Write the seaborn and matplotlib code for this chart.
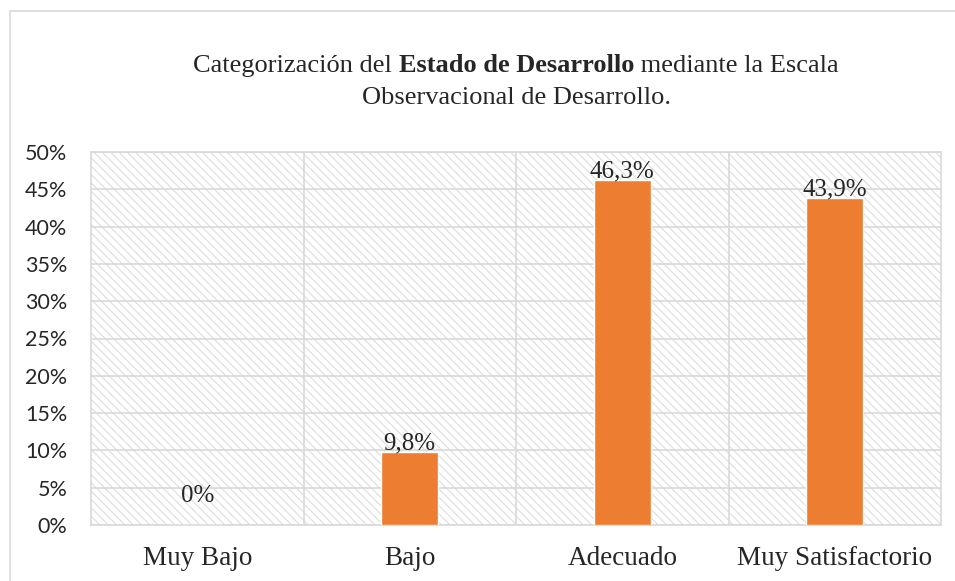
import matplotlib
matplotlib.use("Agg")
import matplotlib.pyplot as plt
import seaborn as sns
import pandas as pd
from matplotlib.patches import Rectangle

# data
categorias = ["Muy Bajo", "Bajo", "Adecuado", "Muy Satisfactorio"]
porcentajes = [0.0, 9.8, 46.3, 43.9]
etiquetas = ["0%", "9,8%", "46,3%", "43,9%"]
yticks = [0, 5, 10, 15, 20, 25, 30, 35, 40, 45, 50]

df = pd.DataFrame({"Estado": categorias, "Porcentaje": porcentajes})

sns.set_style("white")
plt.rcParams["hatch.linewidth"] = 0.7
plt.rcParams["hatch.color"] = "#d9d9d9"

fig = plt.figure(figsize=(9.55, 5.81), dpi=100)
ax = fig.add_axes([91 / 955, 1 - 525 / 581, 850 / 955, 373 / 581])

# outer chart frame
fig.patches.append(Rectangle((10 / 955, -0.1), 1.2, 1 - 11 / 581 + 0.1,
                             transform=fig.transFigure, fill=False,
                             edgecolor="#d9d9d9", linewidth=1.2))

# hatched plot background
ax.add_patch(Rectangle((0, 0), 1, 1, transform=ax.transAxes, facecolor="white",
                       edgecolor="#d9d9d9", hatch="\\\\\\\\", linewidth=0, zorder=0))

sns.barplot(data=df, x="Estado", y="Porcentaje", color="#ED7D31", width=0.27,
            saturation=1, ax=ax, zorder=3)

ax.set_ylim(0, 50)
ax.set_xlim(-0.5, len(categorias) - 0.5)
ax.set_yticks(yticks)
ax.set_yticklabels([f"{v}%" for v in yticks], fontsize=15.5, family="Lato")
ax.tick_params(axis="y", length=0, pad=17)
ax.tick_params(axis="x", length=0, pad=15)
for lbl in ax.get_xticklabels():
    lbl.set_family("Liberation Serif")
    lbl.set_fontsize(19.5)

for y in yticks:
    ax.axhline(y, color="#d9d9d9", linewidth=1.2, zorder=1)
for x in [0.5, 1.5, 2.5]:
    ax.axvline(x, color="#d9d9d9", linewidth=1.2, zorder=1)
for s in ax.spines.values():
    s.set_color("#d9d9d9")
    s.set_linewidth(1.2)

ax.set_xlabel("")
ax.set_ylabel("")

# value labels; the zero one sits a bit higher, like in the original
cont = ax.containers[0]
lab_pos = [e if v > 0 else "" for e, v in zip(etiquetas, porcentajes)]
lab_cero = [e if v == 0 else "" for e, v in zip(etiquetas, porcentajes)]
ax.bar_label(cont, labels=lab_pos, padding=-2, fontsize=18, family="Liberation Serif")
ax.bar_label(cont, labels=lab_cero, padding=13, fontsize=18, family="Liberation Serif")

# title with a bold part, built from pieces
fig.canvas.draw()
r = fig.canvas.get_renderer()
partes = [("Categorización del ", "normal"), ("Estado de Desarrollo", "bold"),
          (" mediante la Escala", "normal")]
textos = []
for t, w in partes:
    textos.append(fig.text(0, 0, t, fontsize=19, family="Liberation Serif",
                           weight=w, va="center"))
anchos = [tx.get_window_extent(r).width for tx in textos]
x0 = 516 - sum(anchos) / 2
for tx, a in zip(textos, anchos):
    tx.set_position((x0 / 955, 1 - 66 / 581))
    x0 += a
fig.text(516 / 955, 1 - 98 / 581, "Observacional de Desarrollo.", fontsize=19,
         family="Liberation Serif", ha="center", va="center")

plt.savefig("out.png", dpi=100)
